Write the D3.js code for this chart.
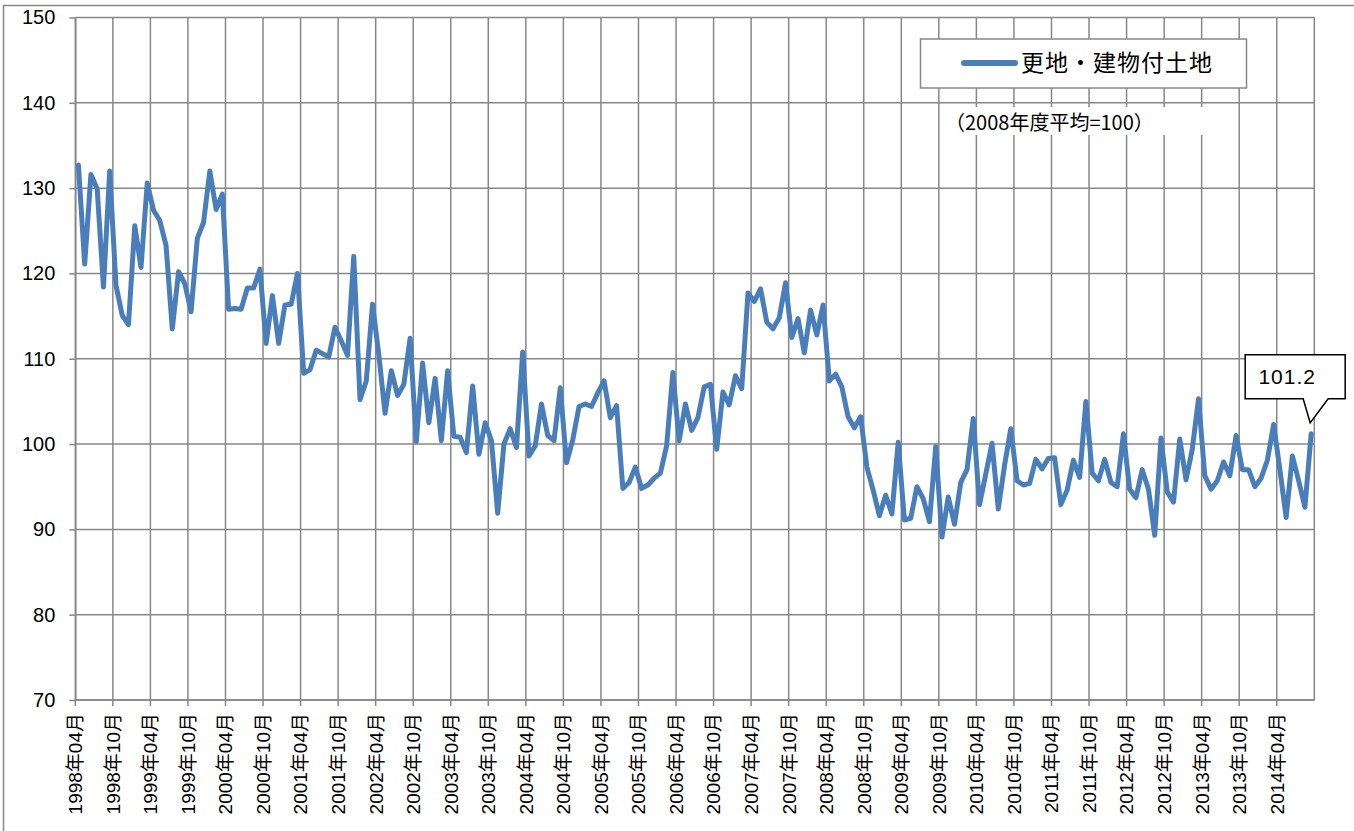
<!DOCTYPE html>
<html>
<head>
<meta charset="utf-8">
<script src="https://cdn.jsdelivr.net/npm/d3@7"></script>
<style>
  body { margin: 0; background: #fff; }
  svg { display: block; }
</style>
</head>
<body>
<script>
// monthly index, first month = 1998年04月
const startYear = 1998
const startMonth = 4

const values = [
  132.7, 121.1, 131.6, 129.9, 118.4, 132.0, 118.6, 115.1, 114.0, 125.6, 120.7, 130.6,
  127.4, 126.2, 123.3, 113.5, 120.2, 118.8, 115.5, 124.1, 126.0, 132.0, 127.5, 129.3,
  115.8, 115.9, 115.8, 118.3, 118.3, 120.5, 111.8, 117.4, 111.8, 116.3, 116.4, 120.0,
  108.3, 108.7, 111.0, 110.6, 110.2, 113.7, 112.1, 110.4, 122.0, 105.2, 107.4, 116.4,
  110.5, 103.6, 108.6, 105.7, 107.0, 112.4, 100.3, 109.5, 102.5, 107.7, 100.4, 108.6,
  100.9, 100.8, 99.0, 106.8, 98.8, 102.5, 100.4, 91.9, 100.0, 101.8, 99.6, 110.8,
  98.6, 99.8, 104.7, 101.0, 100.4, 106.6, 97.8, 100.5, 104.4, 104.7, 104.4, 106.0,
  107.4, 103.1, 104.5, 94.8, 95.5, 97.3, 94.8, 95.2, 96.0, 96.6, 99.8, 108.4,
  100.4, 104.7, 101.6, 103.1, 106.7, 107.0, 99.4, 106.1, 104.6, 108.0, 106.5, 117.7,
  116.7, 118.2, 114.3, 113.5, 114.8, 118.9, 112.5, 114.7, 110.7, 115.7, 112.8, 116.3,
  107.4, 108.2, 106.7, 103.2, 101.9, 103.2, 97.3, 94.6, 91.6, 94.0, 91.8, 100.2,
  91.1, 91.3, 95.0, 93.6, 90.9, 99.7, 89.1, 93.8, 90.6, 95.5, 97.0, 103.0,
  92.9, 96.5, 100.1, 92.4, 97.5, 101.8, 95.7, 95.2, 95.4, 98.2, 97.1, 98.3,
  98.4, 92.9, 94.6, 98.1, 96.1, 105.0, 96.6, 95.7, 98.2, 95.5, 95.0, 101.2,
  94.7, 93.7, 97.0, 94.7, 89.3, 100.7, 94.4, 93.2, 100.6, 95.8, 99.4, 105.3,
  96.3, 94.7, 95.7, 97.9, 96.3, 101.0, 97.0, 97.0, 95.0, 96.0, 98.1, 102.3,
  97.0, 91.4, 98.6, 95.7, 92.6, 101.2
]

const yTicks = [70, 80, 90, 100, 110, 120, 130, 140, 150]
const seriesName = "更地・建物付土地"
const note = "（2008年度平均=100）"
const lastLabel = "101.2"

const months = values.map((_, i) => {
  const m = startMonth - 1 + i
  return `${startYear + Math.floor(m / 12)}年${String(m % 12 + 1).padStart(2, "0")}月`
})
const tickMonths = months.filter((_, i) => i % 6 === 0)

const width = 1354
const height = 831
const plot = {left: 75.3, right: 1314.3, top: 17.5, bottom: 700}
const gridColor = "#878787"
const lineColor = "#4a7ebb"
const font = "'Liberation Sans', Arial, 'Noto Sans CJK JP', sans-serif"
const jpFont = "'Noto Sans CJK JP', 'Liberation Sans', sans-serif"

const x = d3.scaleBand(months, [plot.left, plot.right])
const y = d3.scaleLinear([70, 150], [plot.bottom, plot.top])
const cx = (i) => x(months[i]) + x.bandwidth() / 2

const svg = d3.select("body").append("svg")
    .attr("width", width)
    .attr("height", height)
    .style("font-family", font)

// chart frame (only left/top edges fall inside the picture)
svg.append("rect")
    .attr("x", 3.5).attr("y", 5.5)
    .attr("width", width + 10).attr("height", height + 10)
    .attr("fill", "#fff")
    .attr("stroke", gridColor)
    .attr("stroke-width", 1.5)

// grid
const grid = svg.append("g")
    .attr("stroke", gridColor)
    .attr("stroke-width", 1.5)

grid.selectAll("line.h")
    .data(yTicks)
    .join("line")
    .attr("class", "h")
    .attr("x1", plot.left).attr("x2", plot.right)
    .attr("y1", d => y(d)).attr("y2", d => y(d))

grid.selectAll("line.v")
    .data([...tickMonths.map(d => x(d)), plot.right])
    .join("line")
    .attr("class", "v")
    .attr("x1", d => d).attr("x2", d => d)
    .attr("y1", plot.top).attr("y2", plot.bottom)

// axes
const yAxis = svg.append("g")
    .attr("transform", `translate(${plot.left},0)`)
    .call(d3.axisLeft(y).tickValues(yTicks).tickSize(6).tickSizeOuter(0).tickPadding(14))
yAxis.select(".domain").attr("stroke", gridColor).attr("stroke-width", 1.5)
yAxis.selectAll(".tick line").attr("stroke", gridColor).attr("stroke-width", 1.5)
yAxis.selectAll(".tick text")
    .attr("fill", "#000")
    .style("font-size", "20px")
    .style("font-family", font)

const xAxis = svg.append("g")
    .attr("transform", `translate(${-x.bandwidth() / 2},${plot.bottom})`)
    .call(d3.axisBottom(x).tickValues(tickMonths).tickSize(6).tickSizeOuter(0))
xAxis.select(".domain").remove()
xAxis.selectAll(".tick line").attr("stroke", gridColor).attr("stroke-width", 1.5)
xAxis.selectAll(".tick text")
    .attr("fill", "#000")
    .attr("transform", "rotate(-90)")
    .attr("x", -13)
    .attr("y", 0)
    .attr("dy", "0.36em")
    .attr("text-anchor", "end")
    .style("font-size", "19px")
    .style("font-family", font)

svg.append("line")
    .attr("x1", plot.left).attr("x2", plot.right)
    .attr("y1", plot.bottom).attr("y2", plot.bottom)
    .attr("stroke", gridColor)
    .attr("stroke-width", 1.5)

// note with white backing
svg.append("rect")
    .attr("x", 945).attr("y", 107)
    .attr("width", 290).attr("height", 28)
    .attr("fill", "#fff")
svg.append("text")
    .attr("x", 945).attr("y", 130)
    .style("font-family", jpFont)
    .style("font-size", "20px")
    .text(note)

// legend
const legend = svg.append("g")
legend.append("rect")
    .attr("x", 920.5).attr("y", 39)
    .attr("width", 326).attr("height", 49)
    .attr("fill", "#fff")
    .attr("stroke", gridColor)
    .attr("stroke-width", 1.5)
legend.append("line")
    .attr("x1", 964).attr("x2", 1015)
    .attr("y1", 63).attr("y2", 63)
    .attr("stroke", lineColor)
    .attr("stroke-width", 6)
    .attr("stroke-linecap", "round")
legend.append("text")
    .attr("x", 1021).attr("y", 71)
    .style("font-family", jpFont)
    .style("font-size", "23px")
    .style("letter-spacing", "1px")
    .text(seriesName)

// series
svg.append("path")
    .datum(values)
    .attr("fill", "none")
    .attr("stroke", lineColor)
    .attr("stroke-width", 5)
    .attr("stroke-linejoin", "round")
    .attr("stroke-linecap", "round")
    .attr("d", d3.line().x((d, i) => cx(i)).y(d => y(d)))

// callout for the last value
const li = values.length - 1
const px = cx(li)
const py = y(values[li])
svg.append("path")
    .attr("fill", "#fff")
    .attr("stroke", "#000")
    .attr("stroke-width", 1.5)
    .attr("d", `M${px - 66},${py - 79}H${px + 34}V${py - 35}H${px + 17}L${px - 1},${py - 11}L${px - 8},${py - 35}H${px - 66}Z`)
svg.append("text")
    .attr("x", px - 24).attr("y", py - 50)
    .attr("text-anchor", "middle")
    .style("font-size", "21px")
    .style("letter-spacing", "1px")
    .text(lastLabel)
</script>
</body>
</html>
